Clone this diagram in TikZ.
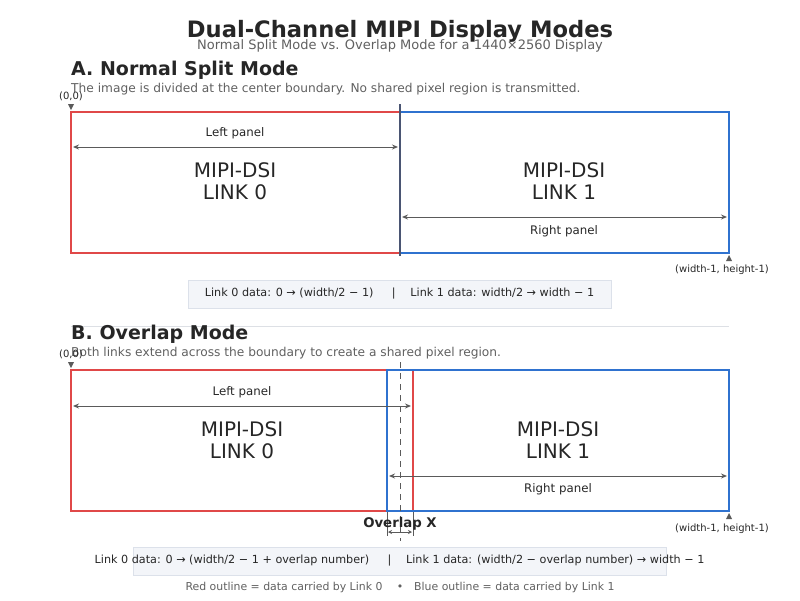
\documentclass[tikz,border=0pt]{standalone}
\usepackage{fontspec}
\setmainfont{DejaVu Sans}
\usetikzlibrary{calc,arrows.meta}

\definecolor{linkred}{HTML}{E04848}
\definecolor{linkblue}{HTML}{2F72CF}
\definecolor{divider}{HTML}{4A5573}
\definecolor{dimgray}{HTML}{5A5A5A}
\definecolor{notegray}{HTML}{606060}
\definecolor{boxfill}{HTML}{F3F5F9}
\definecolor{boxline}{HTML}{DCE1EA}
\definecolor{rulegray}{HTML}{DDE0E5}

\newcommand{\fsz}[2]{\fontsize{#1}{#2}\selectfont}

\tikzset{
  panelzero/.style={draw=linkred, line width=2.3pt},
  panelone/.style={draw=linkblue, line width=2.3pt},
  dimline/.style={draw=dimgray, line width=1pt, {Stealth[length=6pt,width=5pt]}-{Stealth[length=6pt,width=5pt]}},
  heading/.style={anchor=west, inner sep=0pt, font=\bfseries\fsz{19}{22}, text=black!85},
  note/.style={anchor=west, inner sep=0pt, font=\fsz{12.2}{14}, text=notegray},
  plabel/.style={inner sep=0pt, font=\fsz{11.8}{14}, text=black!85},
  linkname/.style={inner sep=0pt, align=center, font=\fsz{20}{22.5}, text=black!85},
  corner/.style={inner sep=0pt, font=\fsz{10}{12}, text=black!85},
  databox/.style={draw=boxline, fill=boxfill, line width=0.6pt, inner sep=0pt},
  datatext/.style={inner sep=0pt, font=\fsz{11.2}{13}, text=black!85},
}

\begin{document}
\begin{tikzpicture}[x=1pt,y=-1pt]
\useasboundingbox (0,0) rectangle (800,600);

% Title
\node[inner sep=0pt, font=\bfseries\fsz{22.6}{26}, text=black!85] (title) at (400,31) {Dual-Channel MIPI Display Modes};
\node[inner sep=0pt, font=\fsz{13}{15}, text=notegray] (subtitle) at (400,46) {Normal Split Mode vs. Overlap Mode for a 1440×2560 Display};

% ---------- A. Normal split ----------
\node[heading] (headA) at (71,70) {A. Normal Split Mode};
\node[note] (noteA) at (71,89) {The image is divided at the center boundary. No shared pixel region is transmitted.};

% Panel corners
\coordinate (A0) at (71,112);
\coordinate (AM) at (400,112);
\coordinate (AB) at (400,253);
\coordinate (A1) at (729,253);

% Link 0 and Link 1 panels
\draw[panelzero] (A0) rectangle (AB);
\draw[panelone] (AM) rectangle (A1);

% Center boundary
\draw[divider, line width=1.8pt] ($(AM)+(0,-8)$) coordinate (divtop) -- ($(AB)+(0,3)$) coordinate (divbot);

% Panel extents
\coordinate (ALs) at (73,147);
\coordinate (ALe) at (398,147);
\draw[dimline] (ALs) -- (ALe);
\node[plabel] (leftA) at (235,133) {Left panel};
\coordinate (ARs) at (402,217);
\coordinate (ARe) at (727,217);
\draw[dimline] (ARs) -- (ARe);
\node[plabel] (rightA) at (564,231) {Right panel};

\node[linkname] (linkA0) at (235,181) {MIPI-DSI\\LINK 0};
\node[linkname] (linkA1) at (564,181) {MIPI-DSI\\LINK 1};

% Corner markers
\node[corner] (orgA) at (71,96) {(0,0)};
\fill[dimgray] ($(A0)+(-3,-8)$) -- ++(6,0) -- ++(-3,6) -- cycle;
\fill[dimgray] ($(A1)+(-3,8)$) -- ++(6,0) -- ++(-3,-6) -- cycle;
\node[corner] (endA) at (722,270) {(width-1, height-1)};

% Data range
\node[databox, minimum width=423pt, minimum height=28pt] (boxA) at (399.5,294) {};
\node[datatext] (dataA) at (boxA) {Link 0 data: 0 → (width/2 − 1) \quad\ |\quad\ Link 1 data: width/2 → width − 1};

% Section separator
\draw[rulegray, line width=0.8pt] (71,326) coordinate (sepL) -- (729,326) coordinate (sepR);

% ---------- B. Overlap ----------
\node[heading] (headB) at (71,334) {B. Overlap Mode};
\node[note] (noteB) at (71,353) {Both links extend across the boundary to create a shared pixel region.};

\coordinate (B0) at (71,370);
\coordinate (BR) at (413,511);
\coordinate (BL) at (387,370);
\coordinate (B1) at (729,511);

\draw[panelzero] (B0) rectangle (BR);
\draw[panelone] (BL) rectangle (B1);

% Center boundary (dashed)
\draw[dimgray, line width=1pt, dash pattern=on 6pt off 5pt] (400,362) coordinate (cTop) -- (400,541) coordinate (cBot);

\coordinate (BLs) at (73,406);
\coordinate (BLe) at (411,406);
\draw[dimline] (BLs) -- (BLe);
\node[plabel] (leftB) at (242,392) {Left panel};
\coordinate (BRs) at (389,476);
\coordinate (BRe) at (727,476);
\draw[dimline] (BRs) -- (BRe);
\node[plabel] (rightB) at (558,489) {Right panel};

\node[linkname] (linkB0) at (242,440) {MIPI-DSI\\LINK 0};
\node[linkname] (linkB1) at (558,440) {MIPI-DSI\\LINK 1};

% Overlap width
\draw[dimgray, line width=0.6pt] (387,512) coordinate (ovL) -- (387,536);
\draw[dimgray, line width=0.6pt] (413,512) coordinate (ovR) -- (413,536);
\draw[draw=dimgray, line width=0.8pt, {Stealth[length=4pt,width=4pt]}-{Stealth[length=4pt,width=4pt]}] (388,532) -- (412,532);
\node[inner sep=0pt, font=\bfseries\fsz{13.3}{15}, text=black!85] (ovX) at (400,524) {Overlap X};

\node[corner] (orgB) at (71,354) {(0,0)};
\fill[dimgray] ($(B0)+(-3,-8)$) -- ++(6,0) -- ++(-3,6) -- cycle;
\fill[dimgray] ($(B1)+(-3,8)$) -- ++(6,0) -- ++(-3,-6) -- cycle;
\node[corner] (endB) at (722,529) {(width-1, height-1)};

\node[databox, minimum width=533pt, minimum height=28pt] (boxB) at (399.5,561) {};
\node[datatext] (dataB) at (boxB) {Link 0 data: 0 → (width/2 − 1 + overlap number) \quad\ |\quad\ Link 1 data: (width/2 − overlap number) → width − 1};

% Legend
\node[inner sep=0pt, font=\fsz{10.9}{13}, text=notegray] (legend) at (400,587) {Red outline = data carried by Link 0 \quad•\quad Blue outline = data carried by Link 1};

\end{tikzpicture}
\end{document}
